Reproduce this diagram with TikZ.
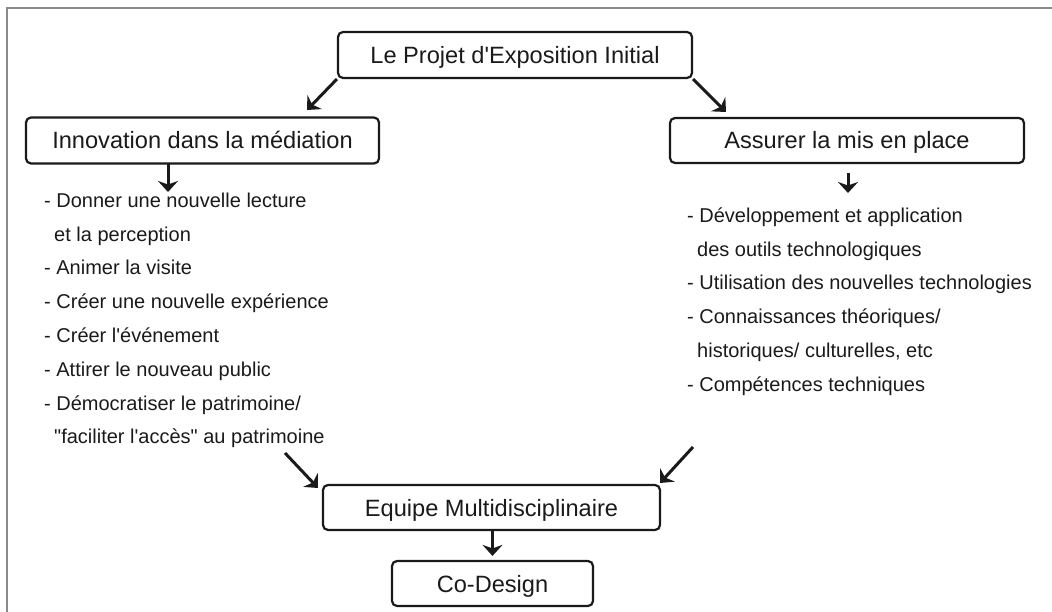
\documentclass[tikz,border=0pt]{standalone}
\usepackage{fontspec}
\setmainfont{Liberation Sans}[Ligatures=TeXOff]
\usetikzlibrary{arrows.meta,calc}
\definecolor{ink}{HTML}{1A1A1A}
\definecolor{frame}{HTML}{8A8A8A}
\begin{document}
\begin{tikzpicture}[x=1pt,y=-1pt,
  boxnode/.style={draw=ink, line width=2.2pt, rounded corners=5pt, text=ink,
    font=\fontsize{23.6}{28}\selectfont, text height=17pt, text depth=0pt,
    inner sep=0pt, anchor=center},
  listnode/.style={align=left, anchor=north west, inner sep=0pt, text=ink,
    font=\fontsize{20}{33.8}\selectfont},
  arr/.style={draw=ink, line width=3pt, -{Stealth[length=11pt,width=20pt,inset=3.5pt]}}]
\useasboundingbox (0,0) rectangle (1052,612);
\draw[frame, line width=2pt] (1052,8) -- (7,8) -- (7,612);

\node[boxnode, minimum width=354pt, minimum height=46pt] (top) at (515,55) {Le Projet d'Exposition Initial};
\node[boxnode, minimum width=353pt, minimum height=46pt] (innov) at (202.5,140.5) {Innovation dans la médiation};
\node[boxnode, minimum width=354pt, minimum height=45pt] (assur) at (847,140.5) {Assurer la mis en place};
\node[boxnode, minimum width=337pt, minimum height=45pt] (equipe) at (491.5,507.5) {Equipe Multidisciplinaire};
\node[boxnode, minimum width=201pt, minimum height=45pt] (codes) at (492.5,583.5) {Co-Design};

\node[listnode] (llist) at (44,192) {\rule{0pt}{15pt}- Donner une nouvelle lecture\\
\hspace{10pt}et la perception\\
- Animer la visite\\
- Créer une nouvelle expérience\\
- Créer l'événement\\
- Attirer le nouveau public\\
- Démocratiser le patrimoine/\\
\hspace{10pt}"faciliter l'accès" au patrimoine};

\node[listnode] (rlist) at (687,207) {\rule{0pt}{15pt}- Développement et application\\
\hspace{10pt}des outils technologiques\\
- Utilisation des nouvelles technologies\\
- Connaissances théoriques/\\
\hspace{10pt}historiques/ culturelles, etc\\
- Compétences techniques};

\coordinate (t1) at (307,110);
\coordinate (t2) at (726,112);
\coordinate (d1s) at (168,163);
\coordinate (d1e) at (168,192);
\coordinate (d2s) at (848,173);
\coordinate (d2e) at (848,193);
\coordinate (ls) at (285,453);
\coordinate (le) at (318,488);
\coordinate (rs) at (693,447);
\coordinate (re) at (660,483);

\draw[arr] (top.south west) -- (t1);
\draw[arr] (top.south east) -- (t2);
\draw[arr] (d1s) -- (d1e);
\draw[arr] (d2s) -- (d2e);
\draw[arr] (ls) -- (le);
\draw[arr] (rs) -- (re);
\draw[arr, shorten >=4pt] (equipe.south -| codes.north) -- (codes.north);
\end{tikzpicture}
\end{document}
